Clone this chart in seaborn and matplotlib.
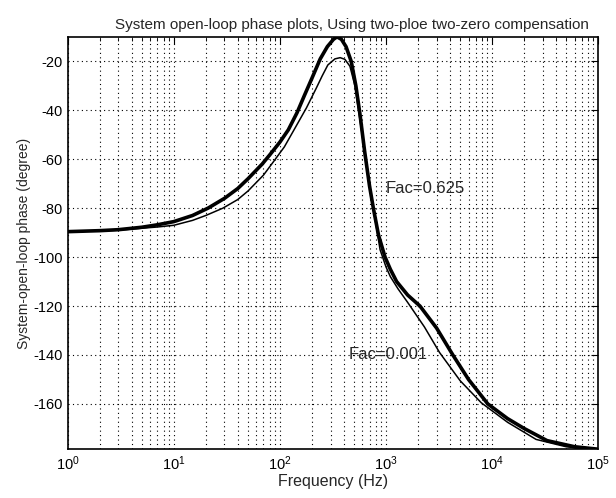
import numpy as np
import pandas as pd
import matplotlib
matplotlib.use('Agg')
import matplotlib.pyplot as plt
import seaborn as sns
from matplotlib.ticker import LogLocator

# Fac = 0.625 (thick curve)
freq_a = [1, 2, 3, 5, 7, 10, 15, 21, 30, 40, 50, 68, 81, 100, 120, 145, 170,
          200, 240, 280, 320, 345, 380, 420, 470, 520, 570, 630, 700, 760,
          850, 980, 1100, 1260, 1600, 2090, 3000, 4270, 6000, 9120, 14000,
          20000, 33000, 60000, 100000]
phase_a = [-89.6, -89.2, -88.8, -87.8, -86.8, -85.5, -83, -80, -76, -72, -68,
           -62, -58, -53, -48, -41, -34, -27, -19, -14, -11, -10, -11, -14,
           -20, -30, -42, -57, -71, -80, -91, -100, -105, -110, -115.5, -120,
           -129, -140, -150, -160, -166, -170, -175, -177.5, -178.5]

# Fac = 0.001 (thin curve)
freq_b = [1, 2, 3, 5, 7, 10, 15, 20, 29, 40, 50, 70, 87, 110, 140, 178, 220,
          250, 283, 330, 370, 410, 457, 510, 560, 630, 700, 760, 880, 1000,
          1100, 1300, 1600, 2300, 3200, 5000, 7900, 14000, 26000, 50000, 100000]
phase_b = [-89.6, -89.3, -89, -88.2, -87.7, -87, -85, -83, -80, -76.5, -73,
           -66.5, -61, -55, -47, -39, -31, -26, -21.5, -19, -18.5, -19.2, -22,
           -30, -42, -57, -71, -80, -97, -104, -108, -113, -118.5, -128.5,
           -139, -150.5, -159.5, -167.5, -174.5, -177.5, -179]

labels = ["Fac=0.625", "Fac=0.001"]

df_a = pd.DataFrame({"freq": freq_a, "phase": phase_a})
df_b = pd.DataFrame({"freq": freq_b, "phase": phase_b})

sns.set_style("white")
plt.rcParams['font.family'] = ['Liberation Sans', 'DejaVu Sans']
plt.rcParams['mathtext.fontset'] = 'custom'
plt.rcParams['mathtext.rm'] = 'Liberation Sans'
plt.rcParams['axes.unicode_minus'] = False

fig = plt.figure(figsize=(6.16, 4.98), dpi=100)
ax = fig.add_axes([0.110, 0.098, 0.861, 0.828])

sns.lineplot(data=df_a, x="freq", y="phase", ax=ax, color="black", linewidth=2.6)
sns.lineplot(data=df_b, x="freq", y="phase", ax=ax, color="black", linewidth=1.1)

ax.set_xscale("log")
ax.set_xlim(1, 1e5)
ax.set_ylim(-178.5, -10)
ax.set_yticks(np.arange(-160, -19, 20))
ax.xaxis.set_major_locator(LogLocator(base=10, numticks=10))
ax.xaxis.set_minor_locator(LogLocator(base=10, subs=np.arange(2, 10), numticks=20))

ax.grid(True, which="major", linestyle=(0, (1, 3)), color="black", linewidth=0.8)
ax.grid(True, which="minor", axis="x", linestyle=(0, (1, 3)), color="black", linewidth=0.8)
ax.tick_params(which="both", direction="in", top=True, right=True, labelsize=10.5,
               colors="black")
ax.tick_params(which="major", length=5)
ax.tick_params(which="minor", length=3)
for s in ax.spines.values():
    s.set_visible(True)
    s.set_color("black")
    s.set_linewidth(1.2)

ax.text(1000, -72, labels[0], fontsize=12, va="center", ha="left")
ax.text(440, -140, labels[1], fontsize=12, va="center", ha="left")

ax.set_title("System open-loop phase plots, Using two-ploe two-zero compensation",
             fontsize=11, pad=6, x=0.535)
ax.set_xlabel("Frequency (Hz)", fontsize=11.5, labelpad=1)
ax.set_ylabel("System-open-loop phase (degree)", fontsize=10, labelpad=2)

fig.savefig("out.png", dpi=100)
